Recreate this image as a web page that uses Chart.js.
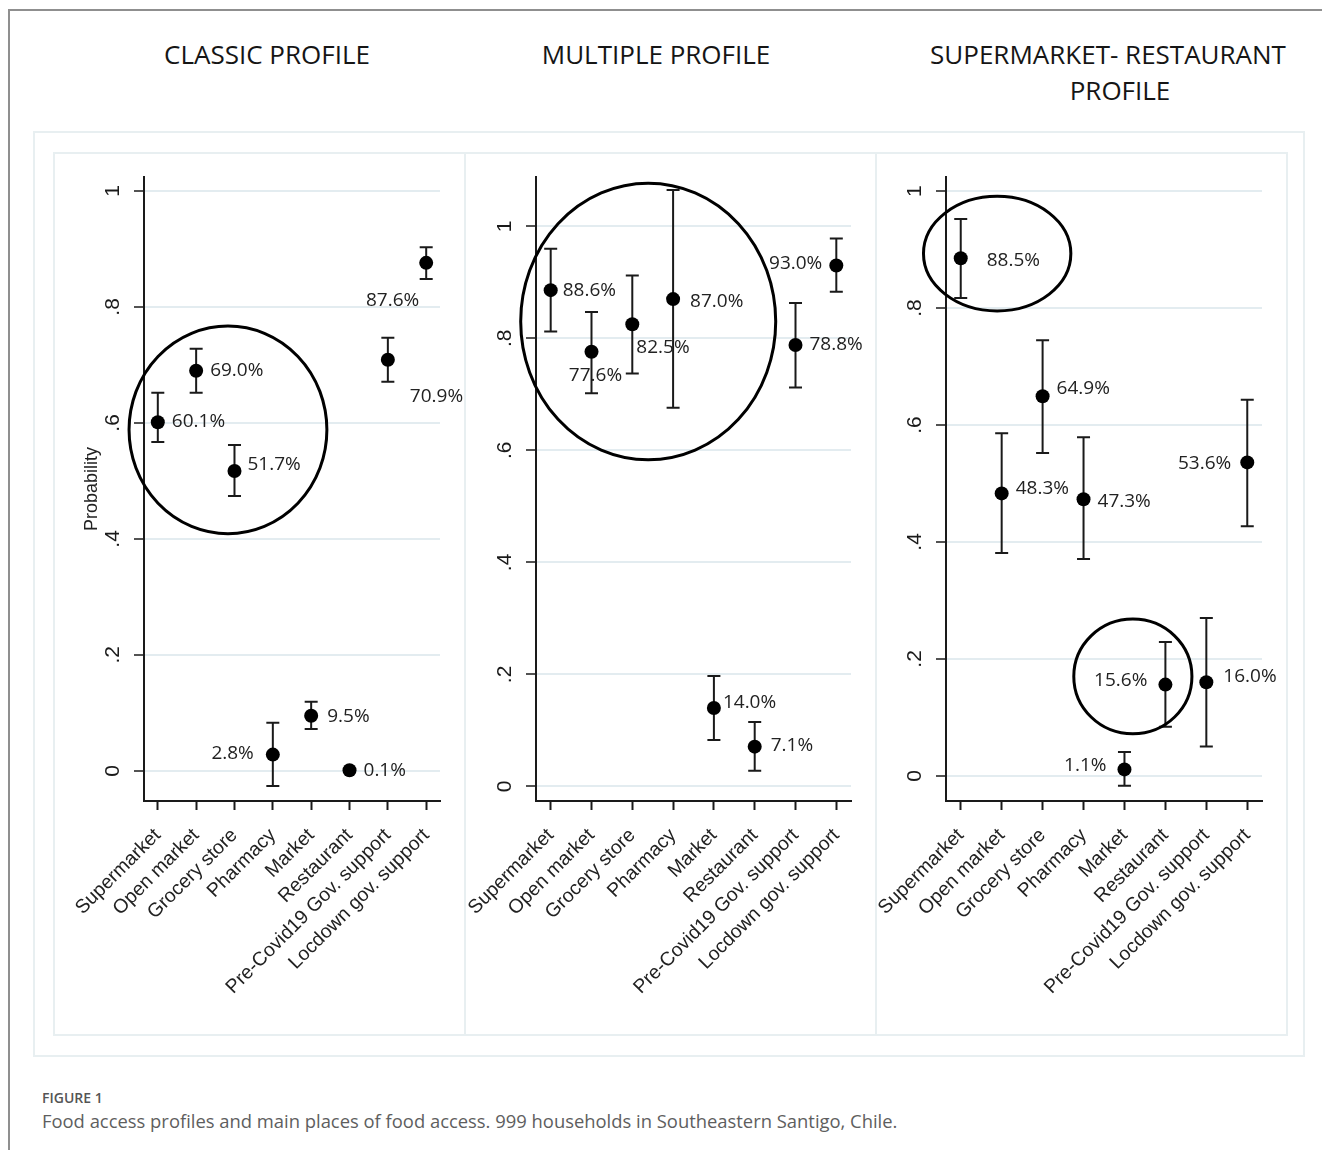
<!DOCTYPE html>
<html>
<head>
<meta charset="utf-8">
<script src="https://cdn.jsdelivr.net/npm/chart.js@4.4.0/dist/chart.umd.min.js"></script>
<style>
  body { margin: 0; background: #fff; width: 1322px; height: 1150px; position: relative; overflow: hidden; font-family: 'Open Sans', sans-serif; }
  .frame { position: absolute; left: 8px; top: 9px; width: 1330px; height: 1160px; border-top: 2px solid #8f8f8f; border-left: 2px solid #8f8f8f; }
  .outer { position: absolute; left: 33px; top: 131px; width: 1272px; height: 926px; border: 2px solid #e8eff1; box-sizing: border-box; }
  .panel { position: absolute; top: 152px; width: 413px; height: 884px; border: 2px solid #e8eff1; box-sizing: border-box; }
  .title { position: absolute; font-size: 26px; color: #151515; text-align: center; white-space: nowrap; transform: translateX(-50%); line-height: 36px; }
  canvas { position: absolute; top: 153px; }
  .fig { position: absolute; left: 42px; top: 1088px; font-size: 14px; font-weight: 600; color: #555; }
  .cap { position: absolute; left: 42px; top: 1108px; font-size: 18.4px; color: #5e5e5e; }
</style>
</head>
<body>
<div class="frame"></div>
<div class="outer"></div>
<div class="panel" style="left:53px"></div>
<div class="panel" style="left:464px"></div>
<div class="panel" style="left:875px"></div>

<div class="title" style="left:267px;top:36px">CLASSIC PROFILE</div>
<div class="title" style="left:656px;top:36px">MULTIPLE PROFILE</div>
<div class="title" style="left:1108px;top:36px">SUPERMARKET- RESTAURANT</div>
<div class="title" style="left:1120px;top:72px">PROFILE</div>

<canvas id="classic" width="411" height="882" style="left:54px"></canvas>
<canvas id="multiple" width="411" height="882" style="left:465px"></canvas>
<canvas id="superRest" width="411" height="882" style="left:876px"></canvas>

<div class="fig">FIGURE 1</div>
<div class="cap">Food access profiles and main places of food access. 999 households in Southeastern Santigo, Chile.</div>

<script>
const categories = ['Supermarket', 'Open market', 'Grocery store', 'Pharmacy', 'Market',
  'Restaurant', 'Pre-Covid19 Gov. support', 'Locdown gov. support'];
const yTickValues = [0, 0.2, 0.4, 0.6, 0.8, 1];

// predicted probability and 95% CI, one entry per place
const classicProb = [0.601, 0.690, 0.517, 0.028, 0.095, 0.001, 0.709, 0.876];
const classicLo   = [0.567, 0.652, 0.474, -0.026, 0.072, 0.000, 0.671, 0.848];
const classicHi   = [0.652, 0.728, 0.562, 0.083, 0.119, 0.002, 0.747, 0.903];

const multipleProb = [0.886, 0.776, 0.825, 0.870, 0.140, 0.071, 0.788, 0.930];
const multipleLo   = [0.812, 0.702, 0.737, 0.676, 0.083, 0.028, 0.712, 0.883];
const multipleHi   = [0.960, 0.847, 0.912, 1.065, 0.197, 0.115, 0.863, 0.978];

const superRestProb = [0.885, 0.483, 0.649, 0.473, 0.011, 0.156, 0.160, 0.536];
const superRestLo   = [0.817, 0.381, 0.552, 0.371, -0.017, 0.084, 0.050, 0.427];
const superRestHi   = [0.952, 0.586, 0.745, 0.579, 0.041, 0.229, 0.270, 0.643];

// highlighted groups (in data units)
const classicRings = [{ cx: 2.83, cy: 0.588, rx: 2.58, ry: 0.179 }];
const multipleRings = [{ cx: 3.39, cy: 0.830, rx: 3.125, ry: 0.247 }];
const superRestRings = [
  { cx: 1.89, cy: 0.893, rx: 1.80, ry: 0.098 },
  { cx: 5.205, cy: 0.170, rx: 1.443, ry: 0.098 }
];

// where each value label sits next to its marker: [dx, dy, align]
const classicLabelAt = [[14,-1,'left'],[14,0,'left'],[13,-6,'left'],[-19,-1,'right'],[16,1,'left'],[14,0,'left'],[22,37,'left'],[-7,38,'right']];
const multipleLabelAt = [[12,0,'left'],[4,24,'center'],[4,23,'left'],[17,2,'left'],[9,-5,'left'],[16,-1,'left'],[14,0,'left'],[-14,-2,'right']];
const superRestLabelAt = [[26,2,'left'],[14,-5,'left'],[14,-8,'left'],[14,2,'left'],[-18,-4,'right'],[-18,-4,'right'],[17,-6,'left'],[-16,1,'right']];

const INK = '#1a1a1a';
const GRID = '#e3ecf0';

function overlayPlugin(lo, hi, prob, labelAt, rings) {
  return {
    id: 'overlay',
    beforeDatasetsDraw(chart) {
      const { ctx, scales: { x, y } } = chart;
      ctx.save();
      ctx.strokeStyle = INK;
      ctx.lineWidth = 2;
      lo.forEach((l, i) => {
        const px = x.getPixelForValue(i + 1);
        const top = y.getPixelForValue(hi[i]);
        const bot = y.getPixelForValue(l);
        ctx.beginPath();
        ctx.moveTo(px, top); ctx.lineTo(px, bot);
        ctx.moveTo(px - 6.5, top); ctx.lineTo(px + 6.5, top);
        ctx.moveTo(px - 6.5, bot); ctx.lineTo(px + 6.5, bot);
        ctx.stroke();
      });
      ctx.restore();
    },
    afterDatasetsDraw(chart) {
      const { ctx, scales: { x, y } } = chart;
      ctx.save();
      ctx.font = '19px "Open Sans"';
      ctx.fillStyle = '#222';
      ctx.textBaseline = 'middle';
      prob.forEach((v, i) => {
        const [dx, dy, align] = labelAt[i];
        ctx.textAlign = align;
        ctx.fillText((v * 100).toFixed(1) + '%', x.getPixelForValue(i + 1) + dx, y.getPixelForValue(v) + dy);
      });
      ctx.restore();
    },
    afterDraw(chart) {
      const { ctx, scales: { x, y } } = chart;
      ctx.save();
      ctx.strokeStyle = '#000';
      ctx.lineWidth = 3;
      rings.forEach(r => {
        const cx = x.getPixelForValue(r.cx);
        const cy = y.getPixelForValue(r.cy);
        const rx = Math.abs(x.getPixelForValue(r.cx + r.rx) - cx);
        const ry = Math.abs(y.getPixelForValue(r.cy + r.ry) - cy);
        ctx.beginPath();
        ctx.ellipse(cx, cy, rx, ry, 0, 0, Math.PI * 2);
        ctx.stroke();
      });
      ctx.restore();
    }
  };
}

function makePanel(id, prob, lo, hi, yMin, yMax, labelAt, rings, axisLeft, showTitle) {
  new Chart(document.getElementById(id), {
    type: 'scatter',
    data: {
      datasets: [{
        data: prob.map((v, i) => ({ x: i + 1, y: v })),
        pointRadius: 7,
        pointBackgroundColor: '#000',
        pointBorderWidth: 0,
        clip: false
      }]
    },
    options: {
      responsive: false,
      animation: false,
      events: [],
      layout: { padding: { top: 24, right: 25, left: 0, bottom: 0 } },
      plugins: { legend: { display: false }, tooltip: { enabled: false } },
      scales: {
        x: {
          type: 'linear',
          min: 0.64,
          max: 8.36,
          afterBuildTicks: s => { s.ticks = categories.map((c, i) => ({ value: i + 1 })); },
          afterFit: s => {
            s.height = 234;
            s.paddingLeft = 0;
            s.paddingRight = 0;
          },
          border: { color: INK, width: 2 },
          grid: { drawOnChartArea: false, tickLength: 9, tickColor: INK, tickWidth: 2 },
          ticks: {
            autoSkip: false,
            minRotation: 45,
            maxRotation: 45,
            padding: 14,
            color: '#222',
            font: { family: '"Liberation Sans", Arial', size: 19.5 },
            callback: v => categories[v - 1]
          }
        },
        y: {
          min: yMin,
          max: yMax,
          afterBuildTicks: s => { s.ticks = yTickValues.map(v => ({ value: v })); },
          afterFit: s => {
            s.width = axisLeft;
            s.paddingTop = 0;
            s.paddingBottom = 0;
          },
          border: { color: INK, width: 2 },
          grid: { color: GRID, lineWidth: 2, tickLength: 10, tickColor: INK, tickWidth: 1.5 },
          title: {
            display: showTitle,
            text: 'Probability',
            color: '#222',
            font: { family: '"Liberation Sans", Arial', size: 18 },
            padding: { top: 27, bottom: 0 }
          },
          ticks: {
            minRotation: 90,
            maxRotation: 90,
            crossAlign: 'center',
            padding: 12,
            color: '#1a1a1a',
            font: { family: '"Liberation Sans", Arial', size: 21 },
            callback: v => v === 0 ? '0' : v === 1 ? '1' : '.' + Math.round(v * 10)
          }
        }
      }
    },
    plugins: [overlayPlugin(lo, hi, prob, labelAt, rings)]
  });
}

makePanel('classic', classicProb, classicLo, classicHi, -0.052, 1.024, classicLabelAt, classicRings, 90, true);
makePanel('multiple', multipleProb, multipleLo, multipleHi, -0.026, 1.088, multipleLabelAt, multipleRings, 71, false);
makePanel('superRest', superRestProb, superRestLo, superRestHi, -0.043, 1.024, superRestLabelAt, superRestRings, 70, false);
</script>
</body>
</html>
